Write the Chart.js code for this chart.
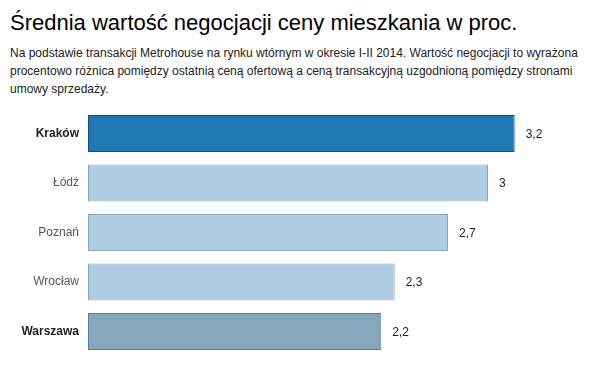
<!DOCTYPE html>
<html>
<head>
<meta charset="utf-8">
<script src="https://cdn.jsdelivr.net/npm/chart.js@4.4.0/dist/chart.umd.min.js"></script>
<style>
  body { margin: 0; background: #fff; font-family: "Liberation Sans", Arial, sans-serif; }
  #wrap { position: relative; width: 603px; height: 375px; overflow: hidden; }
  #title { position: absolute; left: 10px; top: 10px; font-size: 22px; line-height: 26px; color: #000; white-space: nowrap; }
  #sub { position: absolute; left: 10px; top: 44px; width: 590px; font-size: 12px; line-height: 18px; color: #222; }
  #chart { position: absolute; left: 0; top: 89px; }
</style>
</head>
<body>
<div id="wrap">
  <div id="title">Średnia wartość negocjacji ceny mieszkania w proc.</div>
  <div id="sub">Na podstawie transakcji Metrohouse na rynku wtórnym w okresie I-II 2014. Wartość negocjacji to wyrażona procentowo różnica pomiędzy ostatnią ceną ofertową a ceną transakcyjną uzgodnioną pomiędzy stronami umowy sprzedaży.</div>
  <canvas id="chart" width="603" height="288"></canvas>
</div>
<script>
const cities = ["Kraków", "Łódź", "Poznań", "Wrocław", "Warszawa"];
const values = [3.2, 3, 2.7, 2.3, 2.2];
const valueLabels = ["3,2", "3", "2,7", "2,3", "2,2"];
const boldCities = [true, false, false, false, true];

const fills = ["#1f77b4", "#aecde3", "#aecde3", "#aecde3", "#86a6bb"];
const borders = ["#0d5087", "#8aa8be", "#8aa8be", "#8aa8be", "#5f7e95"];
const FONT = "'Liberation Sans', Arial, sans-serif";

const valueLabelPlugin = {
  id: "valueLabels",
  afterDatasetsDraw(chart) {
    const c = chart.ctx;
    const meta = chart.getDatasetMeta(0);
    c.save();
    c.font = "12px " + FONT;
    c.fillStyle = "#222";
    c.textBaseline = "middle";
    c.textAlign = "left";
    meta.data.forEach((bar, i) => {
      c.fillText(valueLabels[i], bar.x + 11, bar.y + 1);
    });
    c.restore();
  }
};

new Chart(document.getElementById("chart"), {
  type: "bar",
  data: {
    labels: cities,
    datasets: [{
      data: values,
      backgroundColor: fills,
      borderColor: borders,
      borderWidth: 1,
      borderSkipped: false,
      barPercentage: 0.75,
      categoryPercentage: 1
    }]
  },
  options: {
    indexAxis: "y",
    responsive: false,
    animation: false,
    // big top/bottom padding so the tick label padding never pushes the chart area
    layout: { padding: { top: 19.75, bottom: 20.75, left: 0, right: 8.33 } },
    plugins: { legend: { display: false }, tooltip: { enabled: false } },
    scales: {
      x: { display: false, min: 0, max: 3.8 },
      y: {
        grid: { display: false, drawTicks: false },
        border: { display: false },
        afterFit(scale) { scale.width = 88; },
        ticks: {
          padding: 9,
          color: (ctx) => boldCities[ctx.index] ? "#222" : "#555",
          font: (ctx) => ({
            family: FONT,
            size: 12,
            weight: boldCities[ctx.index] ? "bold" : "normal"
          })
        }
      }
    }
  },
  plugins: [valueLabelPlugin]
});
</script>
</body>
</html>
